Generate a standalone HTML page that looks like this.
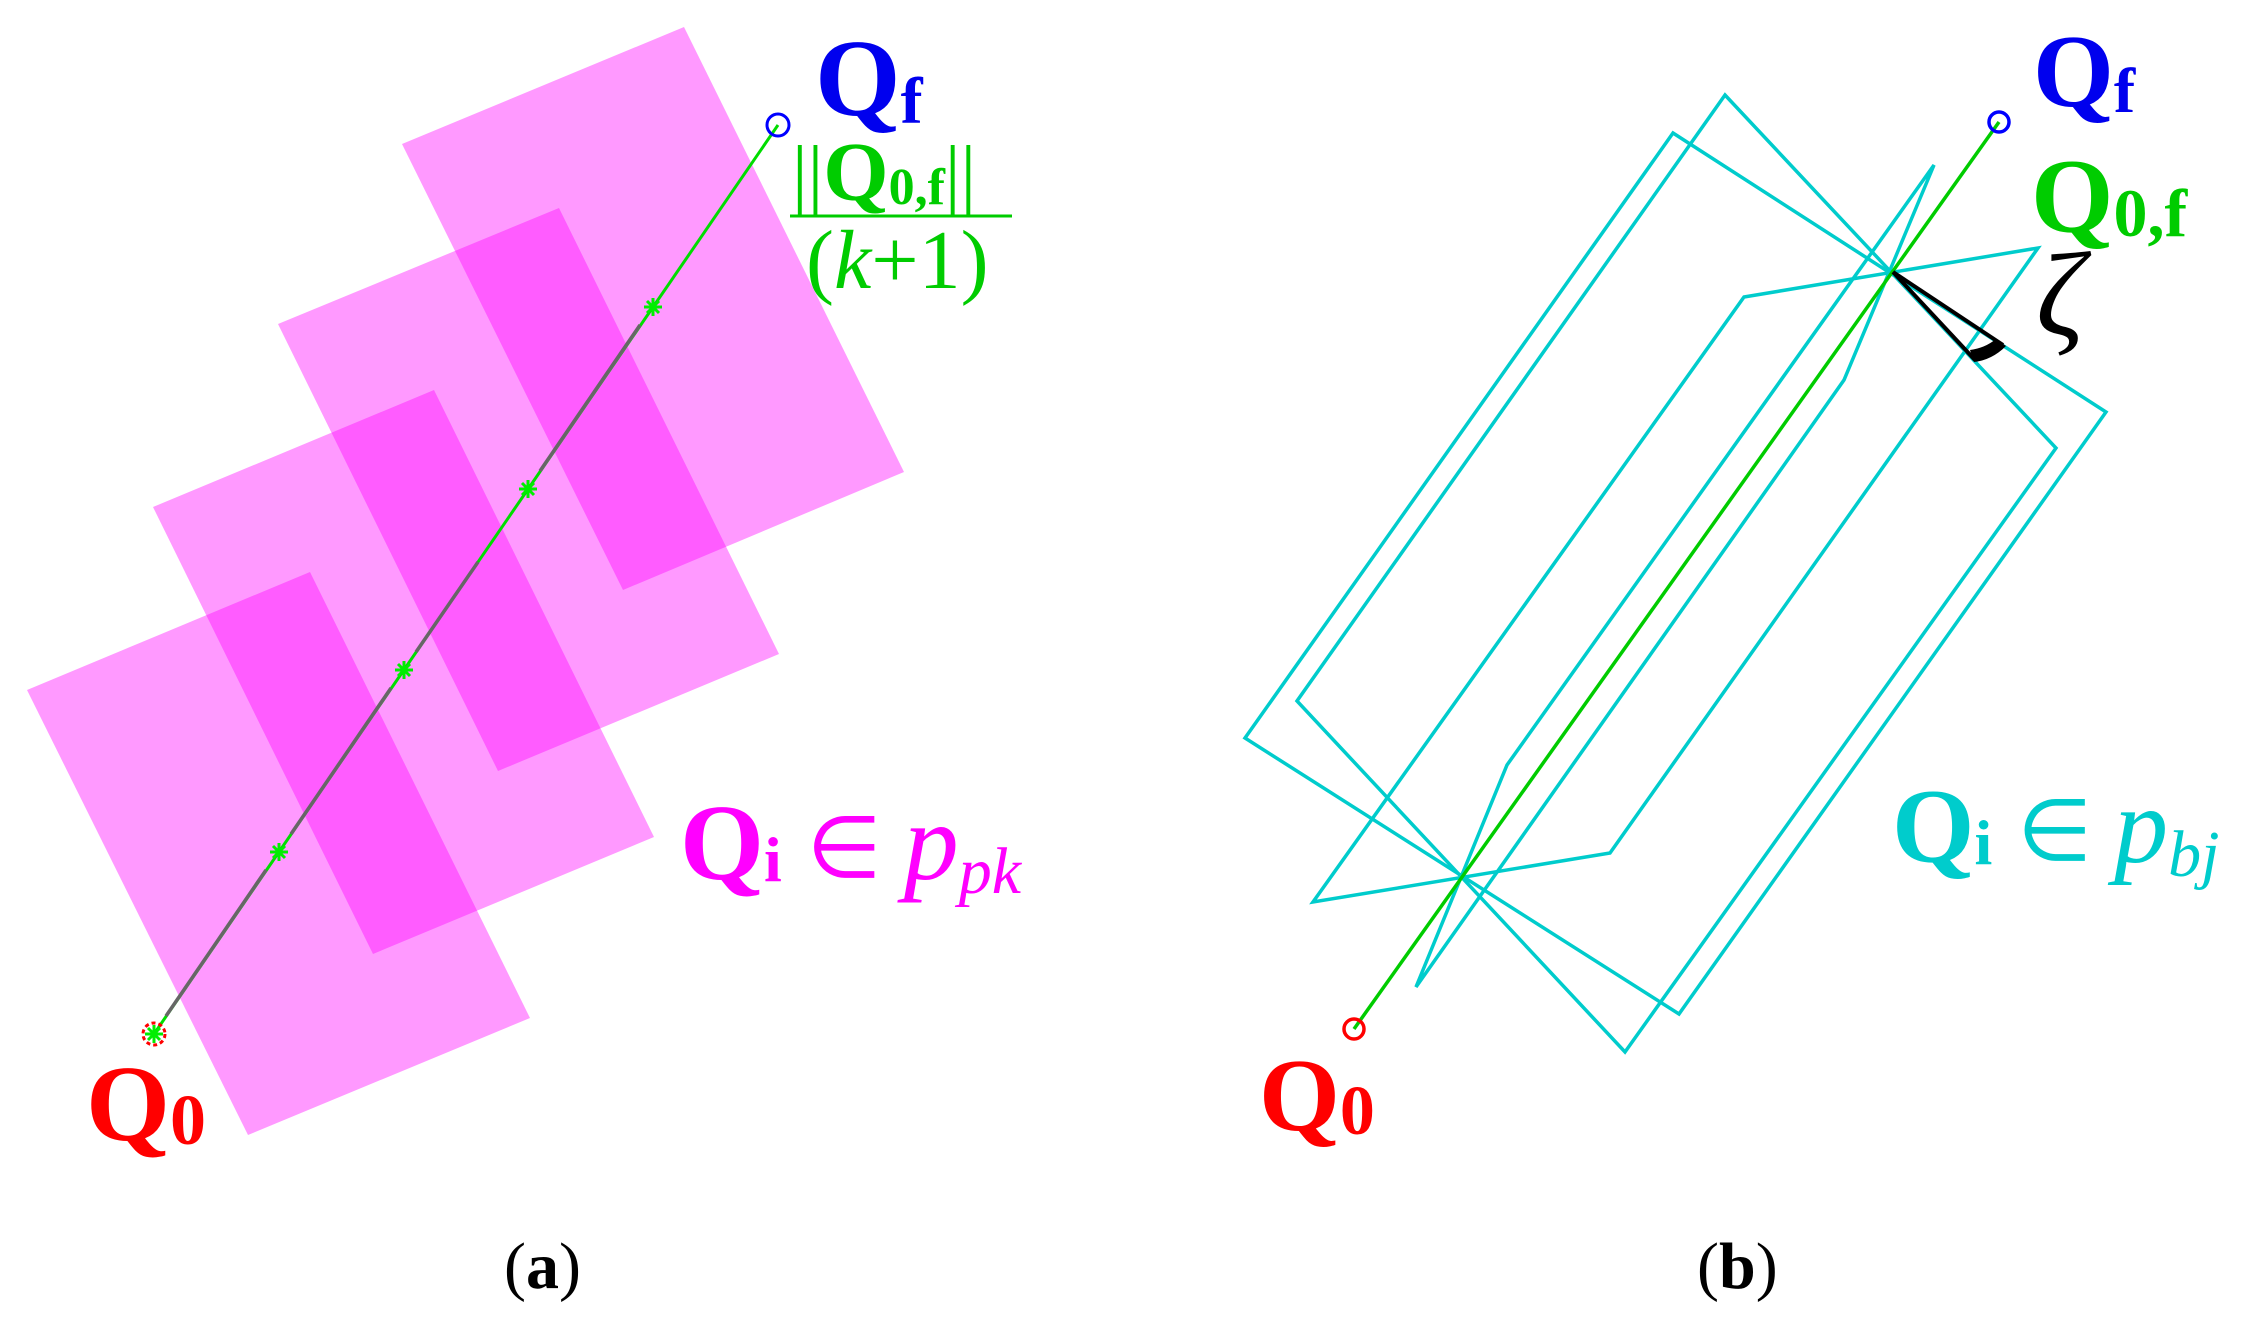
<!DOCTYPE html>
<html><head><meta charset="utf-8"><style>
html,body{margin:0;padding:0;background:#fff;}
svg{display:block}
text{font-family:"Liberation Serif",serif;}
</style></head><body>
<svg width="2258" height="1325" viewBox="0 0 2258 1325" xmlns="http://www.w3.org/2000/svg">
<g fill="#ff00ff" fill-opacity="0.4">
<polygon points="402,144 684,27 904,472 623,590"/>
<polygon points="278,324 559,208 779,654 498,771"/>
<polygon points="153,507 434,390 654,837 373,954"/>
<polygon points="27,690 310,572 530,1018 248,1135"/>
</g>
<line x1="154" y1="1034" x2="778" y2="125" stroke="#00dd00" stroke-width="3"/>
<g stroke="#666" stroke-width="3.5">
<line x1="166" y1="1016" x2="266" y2="870"/>
<line x1="291" y1="834" x2="391" y2="688"/>
<line x1="416" y1="652" x2="478" y2="562"/>
<line x1="540" y1="471" x2="640" y2="325"/>
</g>
<g stroke="#00ee00" stroke-width="3" fill="none">
<g transform="translate(154,1034)"><path d="M-9,0H9M0,-9V9M-6,-6L6,6M-6,6L6,-6"/></g>
<g transform="translate(279,852)"><path d="M-9,0H9M0,-9V9M-6,-6L6,6M-6,6L6,-6"/></g>
<g transform="translate(404,670)"><path d="M-9,0H9M0,-9V9M-6,-6L6,6M-6,6L6,-6"/></g>
<g transform="translate(528,489)"><path d="M-9,0H9M0,-9V9M-6,-6L6,6M-6,6L6,-6"/></g>
<g transform="translate(653,307)"><path d="M-9,0H9M0,-9V9M-6,-6L6,6M-6,6L6,-6"/></g>
</g>
<circle cx="154" cy="1034" r="11" fill="none" stroke="#f00" stroke-width="3" stroke-dasharray="4 3"/>
<circle cx="778" cy="125" r="11" fill="none" stroke="#00f" stroke-width="3"/>
<text x="815" y="115" font-size="110" font-weight="bold" fill="#0000ee">Q<tspan font-size="66" dy="8">f</tspan></text>
<text x="792" y="200" font-size="78" fill="#00cc00">||<tspan font-weight="bold" font-size="84">Q</tspan><tspan font-weight="bold" font-size="52" dy="4">0,f</tspan><tspan dy="-4">||</tspan></text>
<line x1="790" y1="216" x2="1012" y2="216" stroke="#00cc00" stroke-width="3"/>
<text x="806" y="288" font-size="84" fill="#00cc00">(<tspan font-style="italic">k</tspan>+1)</text>
<text x="680" y="879" font-size="108" font-weight="bold" fill="#ff00ff">Q<tspan font-size="64" dy="2">i</tspan><tspan font-weight="normal" font-size="86" dx="25" dy="-4">∈</tspan><tspan font-style="italic" font-weight="normal" font-size="110" dx="22" dy="2">p</tspan><tspan font-style="italic" font-weight="normal" font-size="66" dy="14">pk</tspan></text>
<text x="86" y="1140" font-size="108" font-weight="bold" fill="#ff0000">Q<tspan font-size="72" dy="4">0</tspan></text>
<text x="504" y="1288" font-size="66" fill="#000">(<tspan font-weight="bold">a</tspan>)</text>
<g fill="none" stroke="#00cccc" stroke-width="3.5" stroke-linejoin="miter">
<polygon points="1673,133 2106,412 1679,1014 1245,738"/>
<polygon points="1725,95 2056,448 1625,1052 1297,701"/>
<polygon points="1744,297 2038,248 1610,853 1313,902"/>
<polygon points="1507,765 1934,165 1844,380 1416,987"/>
</g>
<line x1="1354" y1="1029" x2="1999" y2="122" stroke="#00cc00" stroke-width="3.5"/>
<circle cx="1354" cy="1029" r="10" fill="none" stroke="#f00" stroke-width="3.5"/>
<circle cx="1999" cy="122" r="10" fill="none" stroke="#00f" stroke-width="3.5"/>
<g stroke="#000" stroke-width="4" fill="none">
<line x1="1893" y1="272" x2="2003" y2="345"/>
<line x1="1893" y1="272" x2="1975" y2="360"/>
</g>
<path d="M1970,350 L1974,362 Q1992,360 2006,346 L1996,339 Q1985,348 1970,350Z" fill="#000"/>
<text x="2033" y="106" font-size="104" font-weight="bold" fill="#0000ee">Q<tspan font-size="64" dy="6">f</tspan></text>
<text x="2031" y="232" font-size="106" font-weight="bold" fill="#00cc00">Q<tspan font-size="68" dy="4">0,f</tspan></text>
<text x="2036" y="335" font-size="120" font-style="italic" fill="#000">ζ</text>
<text x="1892" y="862" font-size="106" font-weight="bold" fill="#00cccc">Q<tspan font-size="64" dy="2">i</tspan><tspan font-weight="normal" font-size="86" dx="25" dy="-4">∈</tspan><tspan font-style="italic" font-weight="normal" font-size="108" dx="22" dy="2">p</tspan><tspan font-style="italic" font-weight="normal" font-size="66" dy="14">bj</tspan></text>
<text x="1259" y="1130" font-size="104" font-weight="bold" fill="#ff0000">Q<tspan font-size="70" dy="4">0</tspan></text>
<text x="1697" y="1288" font-size="66" fill="#000">(<tspan font-weight="bold">b</tspan>)</text>
</svg>
</body></html>
